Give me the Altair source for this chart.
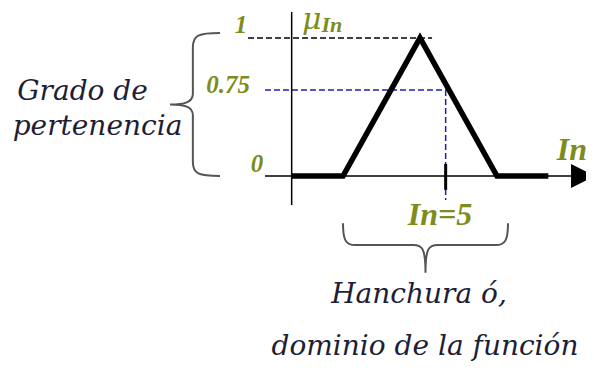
import altair as alt
import pandas as pd

# ---- data: triangular membership function of "In" ----
in_values = [-1, 1, 4, 7, 9]
mu_values = [0, 0, 1, 0, 0]
in_ref = 5        # In = 5
mu_ref = 0.75     # degree of membership at In = 5
mu_max = 1

# ---- layout of the drawing (data units) ----
W, H = 578, 355
K = 77 / 3.0                      # px per In unit
X_MIN = 1 - 335 / K
X_MAX = X_MIN + W / K
xs = alt.Scale(domain=[X_MIN, X_MAX], nice=False, zero=False)
ys = alt.Scale(domain=[-1.355, 0, 0.75, 1, 1.217], range=[H, 168, 82, 30, 0],
               nice=False, zero=False)
X = lambda f: alt.X(f, type="quantitative", scale=xs, axis=None)
Y = lambda f: alt.Y(f, type="quantitative", scale=ys, axis=None)

OLIVE = "#7d8c1c"
BLUE = "#1f1fb0"
DARK = "#1e1e36"

# membership line
mf = pd.DataFrame({"In": in_values, "mu": mu_values})
mf_line = alt.Chart(mf).mark_line(color="black", strokeWidth=5.5, strokeJoin="miter").encode(
    x=X("In"), y=Y("mu"))

# axes
ax = pd.DataFrame({"x": [-1, -2.04], "x2": [-1, 9.92], "y": [1.188, 0], "y2": [-0.21, 0]})
axes = alt.Chart(ax).mark_rule(color="black", strokeWidth=1.5).encode(
    x=X("x"), x2="x2", y=Y("y"), y2="y2")
arrow = alt.Chart(pd.DataFrame({"x": [10.351], "y": [0]})).mark_point(
    shape="M -1 -1 L 1 0 L -1 1 Z", filled=True, color="black", opacity=1, size=576
).encode(x=X("x"), y=Y("y"))

# reference dashed lines
top = pd.DataFrame({"x": [-2.70], "x2": [4.47], "y": [mu_max]})
top_rule = alt.Chart(top).mark_rule(color="black", strokeWidth=1.5, strokeDash=[6, 3]).encode(
    x=X("x"), x2="x2", y=Y("y"))
hr = pd.DataFrame({"x": [-2.04], "x2": [in_ref], "y": [mu_ref]})
h_rule = alt.Chart(hr).mark_rule(color=BLUE, strokeWidth=1.5, strokeDash=[6, 3]).encode(
    x=X("x"), x2="x2", y=Y("y"))
vr = pd.DataFrame({"x": [in_ref], "y": [mu_ref], "y2": [-0.174]})
v_rule = alt.Chart(vr).mark_rule(color=BLUE, strokeWidth=1.5, strokeDash=[6, 3]).encode(
    x=X("x"), y=Y("y"), y2="y2")
tk = pd.DataFrame({"x": [in_ref], "y": [0.105], "y2": [-0.10]})
tick = alt.Chart(tk).mark_rule(color="black", strokeWidth=3).encode(
    x=X("x"), y=Y("y"), y2="y2")

# braces
left_brace = alt.Chart(pd.DataFrame({"x": [-4.766], "y": [0.624]})).mark_point(
    shape=("M 0.35 -1 C 0.05 -1 -0.03 -0.97 -0.03 -0.8 L -0.03 -0.15 "
           "C -0.03 -0.03 -0.15 0 -0.35 0 C -0.15 0 -0.03 0.03 -0.03 0.15 "
           "L -0.03 0.8 C -0.03 0.97 0.05 1 0.35 1"),
    filled=False, color="#555555", strokeWidth=2, opacity=1, size=143 ** 2
).encode(x=X("x"), y=Y("y"))
bottom_brace = alt.Chart(pd.DataFrame({"x": [4.214], "y": [-0.522]})).mark_point(
    shape=("M -1 -0.3 C -1 -0.1 -0.97 -0.036 -0.85 -0.036 L -0.15 -0.036 "
           "C -0.04 -0.036 0 0 0 0.3 C 0 0 0.04 -0.036 0.15 -0.036 "
           "L 0.85 -0.036 C 0.97 -0.036 1 -0.1 1 -0.3"),
    filled=False, color="#555555", strokeWidth=2, opacity=1, size=165 ** 2
).encode(x=X("x"), y=Y("y"))


def texts(rows, size, color, font, weight="normal", align="center"):
    df = pd.DataFrame(rows, columns=["t", "x", "y"])
    return alt.Chart(df).mark_text(
        fontSize=size, color=color, font=font, fontStyle="italic", fontWeight=weight,
        align=align, baseline="alphabetic"
    ).encode(x=X("x"), y=Y("y"), text="t:N")


tick_labels = texts([["1", -2.97, 1.036], ["0.75", -3.48, 0.724], ["0", -2.35, 0.035]],
                    25, OLIVE, "Liberation Serif", "bold")
mu_label = texts([["μ", -0.60, 1.065]], 30, OLIVE, "DejaVu Serif", "normal", "left")
mu_sub = texts([["In", 0.16, 1.043]], 22, OLIVE, "Liberation Serif", "bold", "left")
big_labels = texts([["In", 9.922, 0.14], ["In=5", 4.779, -0.355]],
                   32, OLIVE, "Liberation Serif", "bold")
notes = texts([["Grado de", -9.149, 0.663], ["pertenencia", -8.565, 0.358],
               ["Hanchura ó,", 3.961, -0.920], ["dominio de la función", 4.195, -1.300]],
              28, DARK, "DejaVu Serif")

chart = alt.layer(
    top_rule, h_rule, v_rule, axes, arrow, mf_line, tick,
    left_brace, bottom_brace, tick_labels, mu_label, mu_sub, big_labels, notes
).properties(
    width=W, height=H, autosize=alt.AutoSizeParams(type="none"), padding=0,
    background="white"
).configure_view(stroke=None)

chart.save("out.html", embed_options={"renderer": "svg", "actions": False})
